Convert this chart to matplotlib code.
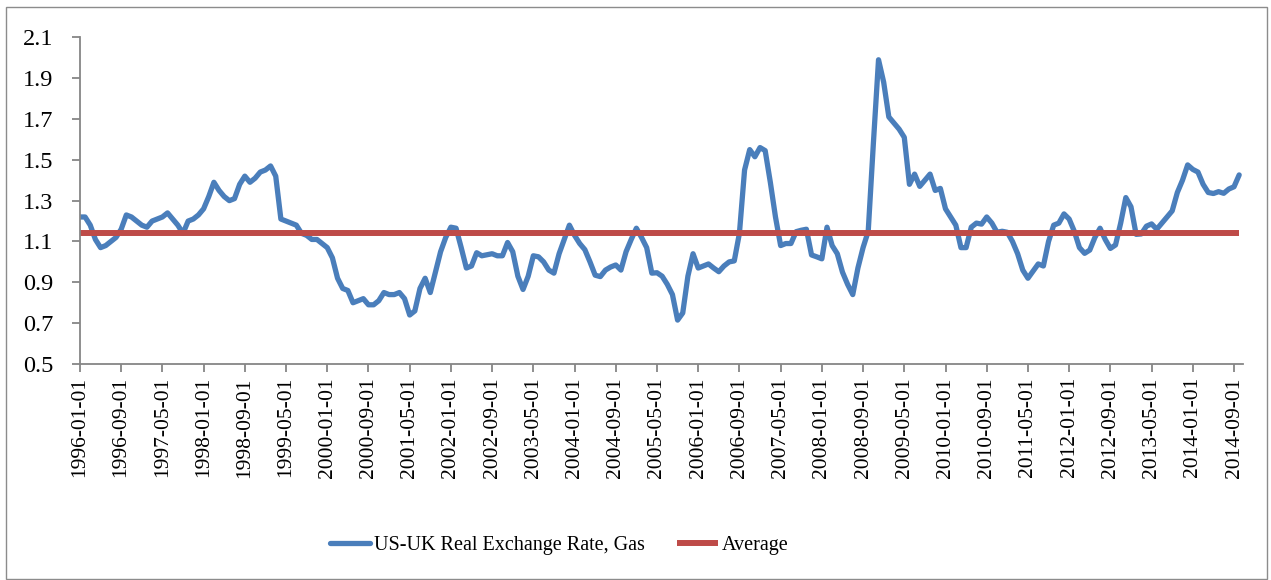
import matplotlib
matplotlib.use("Agg")
import matplotlib.pyplot as plt
import numpy as np
import pandas as pd

# monthly values, 1996-01 .. 2014-10
rate = [
    1.22, 1.22, 1.18, 1.11, 1.07, 1.08, 1.10, 1.12, 1.16, 1.23,
    1.22, 1.20, 1.18, 1.17, 1.20, 1.21, 1.22, 1.24, 1.21, 1.18,
    1.14, 1.20, 1.21, 1.23, 1.26, 1.32, 1.39, 1.35, 1.32, 1.30,
    1.31, 1.38, 1.42, 1.39, 1.41, 1.44, 1.45, 1.47, 1.42, 1.21,
    1.20, 1.19, 1.18, 1.14, 1.13, 1.11, 1.11, 1.09, 1.07, 1.02,
    0.92, 0.87, 0.86, 0.80, 0.81, 0.82, 0.79, 0.79, 0.81, 0.85,
    0.84, 0.84, 0.85, 0.82, 0.74, 0.76, 0.87, 0.92, 0.85, 0.95,
    1.05, 1.12, 1.17, 1.165, 1.07, 0.97, 0.98, 1.045, 1.03, 1.035,
    1.04, 1.03, 1.03, 1.095, 1.05, 0.93, 0.865, 0.93, 1.03, 1.025,
    1.00, 0.96, 0.945, 1.04, 1.11, 1.18, 1.13, 1.09, 1.06, 1.00,
    0.935, 0.928, 0.96, 0.975, 0.985, 0.96, 1.05, 1.11, 1.165, 1.12,
    1.07, 0.945, 0.947, 0.93, 0.89, 0.84, 0.715, 0.75, 0.93, 1.04,
    0.97, 0.98, 0.99, 0.97, 0.952, 0.98, 1.00, 1.005, 1.14, 1.45,
    1.55, 1.515, 1.56, 1.545, 1.39, 1.22, 1.08, 1.09, 1.09, 1.148,
    1.155, 1.16, 1.034, 1.025, 1.015, 1.17, 1.08, 1.04, 0.95, 0.89,
    0.84, 0.97, 1.07, 1.15, 1.58, 1.99, 1.88, 1.71, 1.68, 1.65,
    1.61, 1.38, 1.43, 1.37, 1.40, 1.43, 1.35, 1.36, 1.26, 1.22,
    1.18, 1.07, 1.07, 1.17, 1.19, 1.185, 1.22, 1.19, 1.145, 1.15,
    1.145, 1.10, 1.04, 0.96, 0.92, 0.955, 0.99, 0.98, 1.10, 1.18,
    1.19, 1.235, 1.21, 1.15, 1.07, 1.042, 1.058, 1.12, 1.165, 1.11,
    1.066, 1.083, 1.19, 1.315, 1.27, 1.135, 1.137, 1.175, 1.186, 1.16,
    1.19, 1.22, 1.25, 1.34, 1.40, 1.475, 1.453, 1.44, 1.38, 1.34,
    1.335, 1.344, 1.336, 1.357, 1.368, 1.426,
]
average = 1.14
dates = pd.date_range("1996-01-01", periods=len(rate), freq="MS")
tick_labels = [d.strftime("%Y-%m-%d") for d in dates[::8]]
y_ticks = np.arange(0.5, 2.11, 0.2)

plt.rcParams["font.family"] = ["Liberation Serif", "DejaVu Serif"]

fig = plt.figure(figsize=(12.71, 5.8), dpi=100)
ax = fig.add_axes([0.0629, 0.3724, 0.9153, 0.5633])

x = np.arange(len(rate))
ax.plot(x, rate, color="#4A7EBB", lw=3.8, solid_capstyle="round",
        solid_joinstyle="round", label="US-UK Real Exchange Rate, Gas")
ax.plot(x, [average] * len(rate), color="#BE4B48", lw=4.3,
        solid_capstyle="butt", label="Average")

ax.set_xlim(0, 225.8)
ax.set_ylim(0.5, 2.1)
ax.set_yticks(y_ticks)
ax.set_yticklabels([f"{v:.1f}" for v in y_ticks], fontsize=17.5)
ax.set_xticks(x[::8])
ax.set_xticklabels(tick_labels, rotation=90, fontsize=15.5)

for s in ["top", "right"]:
    ax.spines[s].set_visible(False)
for s in ["left", "bottom"]:
    ax.spines[s].set_color("#868686")
    ax.spines[s].set_linewidth(1.3)
ax.tick_params(axis="both", colors="#868686", labelcolor="black",
               length=6, width=1.3, direction="out")
ax.tick_params(axis="y", pad=13)

fig.legend(loc="center left", bbox_to_anchor=(320 / 1271, 1 - 545 / 580),
           ncol=2, frameon=False, borderpad=0, fontsize=14.5,
           handlelength=2.0, handletextpad=0.2, columnspacing=1.6)

fig.patches.append(plt.Rectangle((6 / 1271, 1 / 580), 1261 / 1271, 572 / 580,
                                 transform=fig.transFigure, fill=False,
                                 edgecolor="#8c8c8c", lw=1))

fig.savefig("out.png", dpi=100)
